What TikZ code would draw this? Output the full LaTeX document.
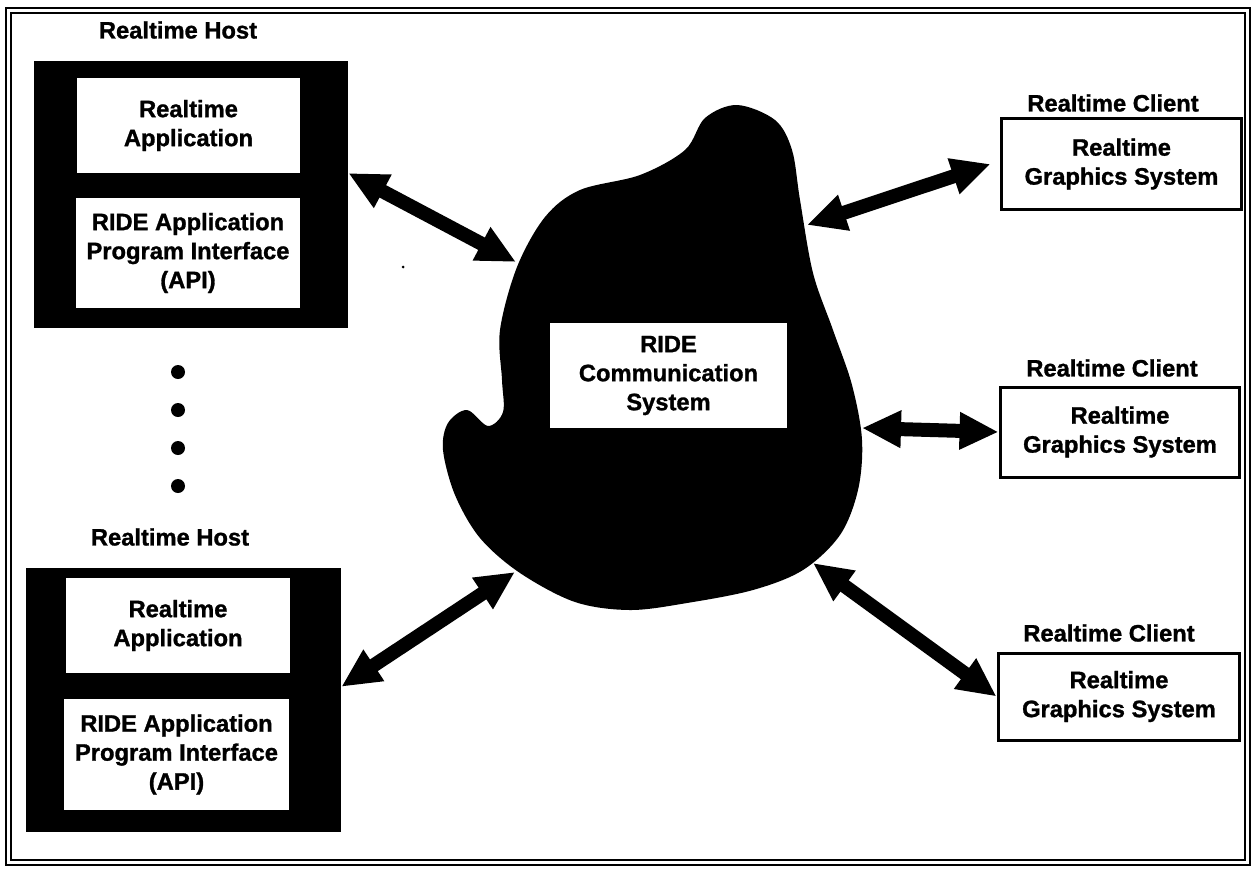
\documentclass[tikz,border=0pt]{standalone}
\usepackage{fontspec}
\setmainfont{Liberation Sans}[BoldFeatures={FakeBold=1.2}]
\usetikzlibrary{arrows.meta,calc}
\tikzset{every node/.style={font=\fontsize{13.5}{16.5}\selectfont\bfseries,align=center,inner sep=0pt},
  hostbox/.style={fill=black,rectangle},
  appbox/.style={fill=white,rectangle},
  clientbox/.style={draw,line width=.06cm,fill=white,rectangle},
  fat/.style={line width=.28cm,{Triangle[length=.78cm,width=.7cm]}-{Triangle[length=.78cm,width=.7cm]}}}

\begin{document}
\begin{tikzpicture}[x=.02cm,y=-.02cm]
\useasboundingbox (0,0) rectangle (1253,869);
\draw[line width=.04cm] (6,8) rectangle (1250,865);
\draw[line width=.04cm] (11,13) rectangle (1245,860);

% hosts
\node (hostlbl1) at (178,30) {Realtime Host};
\node[hostbox,minimum width=6.28cm,minimum height=5.34cm] (host1) at (191,194.5) {};
\node[appbox,minimum width=4.46cm,minimum height=1.9cm] (app1) at (188.5,125.5) {Realtime\\Application};
\node[appbox,minimum width=4.48cm,minimum height=2.2cm] (api1) at (188,253) {RIDE Application\\Program Interface\\(API)};
\foreach \y in {372,410,448,486} \fill (178,\y) circle(7);
\fill (403,267) circle(1.5);
\node (hostlbl2) at (170,537) {Realtime Host};
\node[hostbox,minimum width=6.3cm,minimum height=5.28cm] (host2) at (183.5,700) {};
\node[appbox,minimum width=4.48cm,minimum height=1.9cm] (app2) at (178,625.5) {Realtime\\Application};
\node[appbox,minimum width=4.5cm,minimum height=2.22cm] (api2) at (176.5,754.5) {RIDE Application\\Program Interface\\(API)};

% communication cloud
\fill plot[smooth cycle,tension=.55] coordinates {(737,105) (775,120) (792,150) (800,200)
  (813,273) (833,330) (852,385) (862,440) (858,490) (840,535) (803,570)
  (753,590) (687,603) (630,610) (575,602) (520,573) (480,538) (455,495)
  (443,450) (448,423) (467,410) (488,426) (503,412) (502,380)
  (500,330) (517,267) (545,217) (580,190) (640,175) (685,150) (705,118)};
\node[appbox,minimum width=4.74cm,minimum height=2.1cm] (comm) at (668.5,375.5) {RIDE\\Communication\\System};
\coordinate (c1) at (516,262);
\coordinate (c2) at (807,225);
\coordinate (c3) at (862,428);
\coordinate (c4) at (813,563);
\coordinate (c5) at (515,572);

% clients
\node (cllbl1) at (1113,103) {Realtime Client};
\node[clientbox,minimum width=4.82cm,minimum height=1.84cm] (cl1) at (1121.5,164) {Realtime\\Graphics System};
\node (cllbl2) at (1112,368) {Realtime Client};
\node[clientbox,minimum width=4.8cm,minimum height=1.8cm] (cl2) at (1120,432) {Realtime\\Graphics System};
\node (cllbl3) at (1109,633) {Realtime Client};
\node[clientbox,minimum width=4.84cm,minimum height=1.74cm] (cl3) at (1119,696.5) {Realtime\\Graphics System};

\draw[fat] ($(host1.north east)!.42!(host1.south east)$) -- (c1);
\draw[fat] (c2) -- ([xshift=-.18cm]cl1.west);
\draw[fat] (c3) -- (cl2.west);
\draw[fat] (c4) -- (cl3.west);
\draw[fat] ($(host2.north east)!.45!(host2.south east)$) -- (c5);
\end{tikzpicture}
\end{document}
